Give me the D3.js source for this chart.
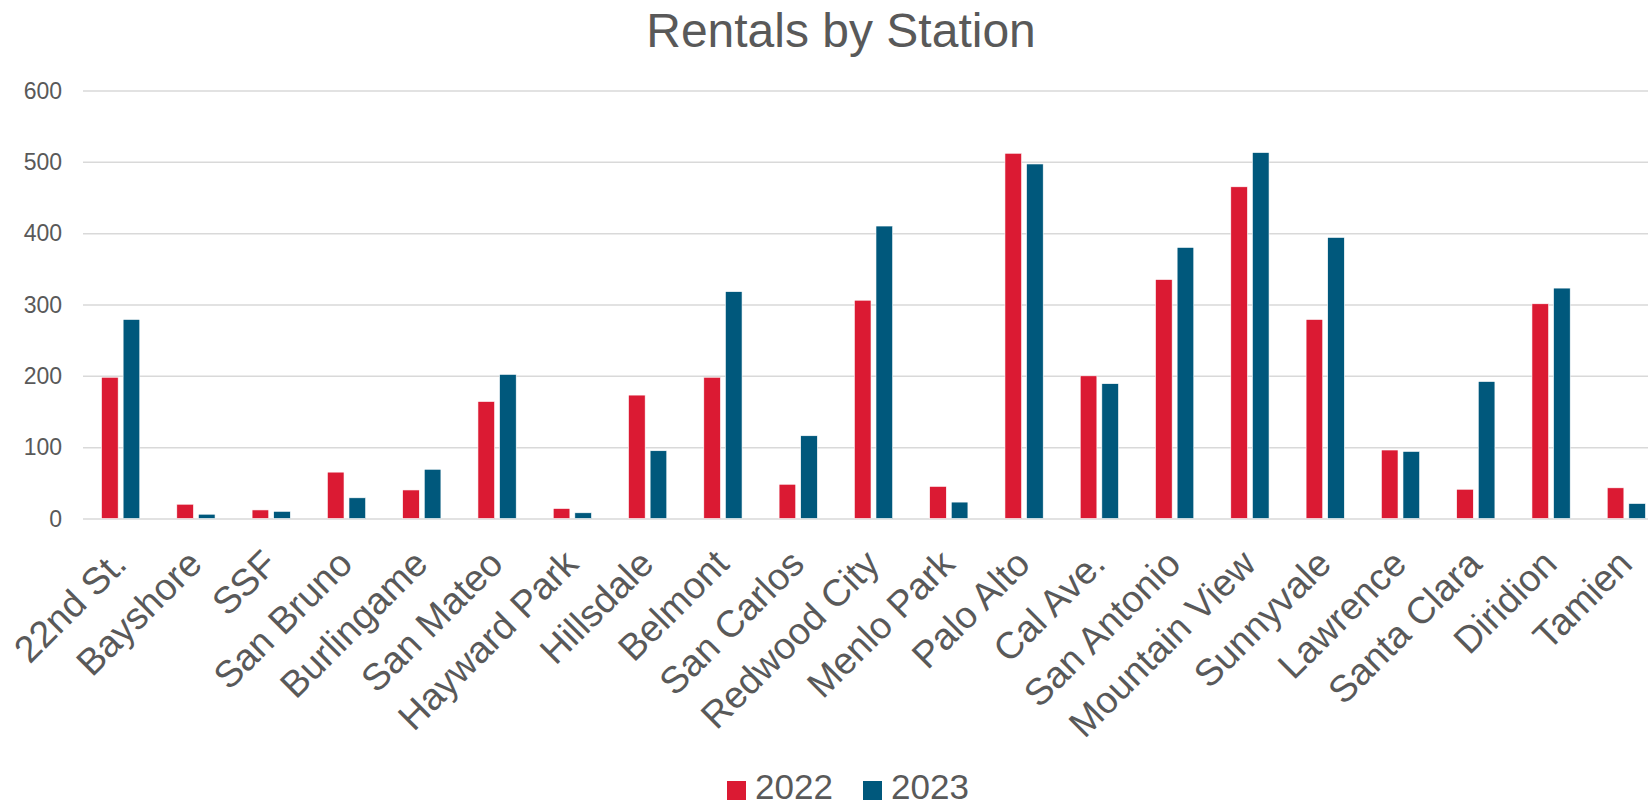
<!DOCTYPE html>
<html lang="en">
<head>
  <meta charset="UTF-8">
  <title>Rentals by Station</title>
  <style>
  body { margin: 0; background: #fff; }
  svg { display: block; font-family: "Liberation Sans", Arial, sans-serif; }
  .grid line { stroke: #d9d9d9; stroke-width: 1.5px; }
  .grid path { display: none; }
  text { fill: #595959; }
  </style>
</head>
<body>
  <script src="https://d3js.org/d3.v7.min.js"></script>
  <script type="text/javascript">

    var stations = ["22nd St.", "Bayshore", "SSF", "San Bruno", "Burlingame", "San Mateo",
      "Hayward Park", "Hillsdale", "Belmont", "San Carlos", "Redwood City", "Menlo Park",
      "Palo Alto", "Cal Ave.", "San Antonio", "Mountain View", "Sunnyvale", "Lawrence",
      "Santa Clara", "Diridion", "Tamien"];
    var series = ["2022", "2023"];
    var rentals2022 = [198, 20, 12, 65, 40, 164, 14, 173, 198, 48, 306, 45,
                       512, 200, 335, 465, 279, 96, 41, 301, 43];
    var rentals2023 = [279, 6, 10, 29, 69, 202, 8, 95, 318, 116, 410, 23,
                       497, 189, 380, 513, 394, 94, 192, 323, 21];
    var yTicks = [0, 100, 200, 300, 400, 500, 600];
    var colors = ["#db1a33", "#00587c"];

    var width = 1648;
    var height = 805;
    var svg = d3.select("body")
        .append("svg")
          .attr("width", width)
          .attr("height", height);

    var x0 = d3.scaleBand()
        .domain(stations)
        .range([83, 1664])
        .padding(0);

    var x1 = d3.scaleBand()
        .domain(series)
        .range([0, x0.bandwidth()])
        .paddingInner(0.23)
        .paddingOuter(0.857);

    var y = d3.scaleLinear()
        .domain([0, 600])
        .range([518.5, 90.5]);

    var color = d3.scaleOrdinal().domain(series).range(colors);

    // gridlines
    svg.append("g")
        .attr("class", "grid")
        .attr("transform", "translate(83,0)")
        .call(d3.axisLeft(y).tickValues(yTicks).tickSize(-(width - 83)).tickFormat(""));

    // y labels
    svg.append("g")
      .selectAll("text")
      .data(yTicks)
      .enter()
      .append("text")
        .attr("x", 62)
        .attr("y", function(d){ return y(d); })
        .attr("dy", "0.36em")
        .attr("text-anchor", "end")
        .style("font-size", "23px")
        .text(function(d){ return d; });

    var rows = stations.map(function(s, i){
      return { station: s, values: [rentals2022[i], rentals2023[i]] };
    });

    var group = svg.append("g")
      .selectAll("g")
      .data(rows)
      .enter()
      .append("g")
        .attr("transform", function(d){ return "translate(" + x0(d.station) + ",0)"; });

    group.selectAll("rect")
      .data(function(d){ return series.map(function(s, j){ return { key: s, value: d.values[j] }; }); })
      .enter()
      .append("rect")
        .attr("x", function(d){ return x1(d.key); })
        .attr("width", x1.bandwidth())
        .attr("y", function(d){ return y(d.value); })
        .attr("height", function(d){ return y(0) - y(d.value); })
        .attr("fill", function(d){ return color(d.key); })
        .attr("stroke", "#fff")
        .attr("stroke-width", 0.6);

    // rotated category labels
    svg.append("g")
      .selectAll("text")
      .data(stations)
      .enter()
      .append("text")
        .attr("transform", function(d){
          return "translate(" + (x0(d) + x0.bandwidth() / 2 + 8) + ",566) rotate(-45)";
        })
        .attr("text-anchor", "end")
        .style("font-size", "37.5px")
        .text(function(d){ return d; });

    // title
    svg.append("text")
        .attr("x", 841)
        .attr("y", 47)
        .attr("text-anchor", "middle")
        .style("font-size", "48px")
        .text("Rentals by Station");

    // legend
    var legend = svg.append("g")
      .selectAll("g")
      .data(series)
      .enter()
      .append("g")
        .attr("transform", function(d, i){ return "translate(" + (727 + i * 136) + ",781)"; });

    legend.append("rect")
        .attr("width", 19)
        .attr("height", 19)
        .attr("fill", function(d){ return color(d); });

    legend.append("text")
        .attr("x", 28)
        .attr("y", 18)
        .style("font-size", "35px")
        .text(function(d){ return d; });
  </script>
</body>
</html>
